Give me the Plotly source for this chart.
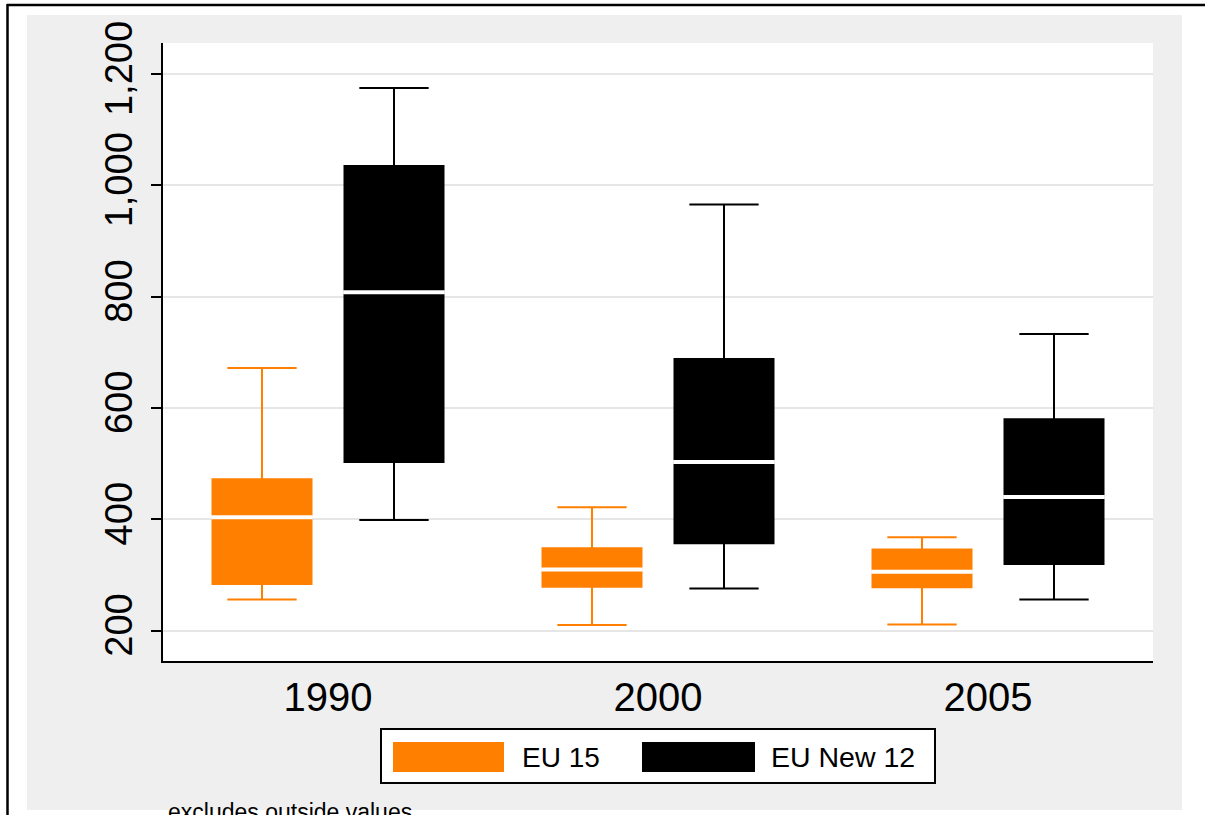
import plotly.graph_objects as go

# Box-plot summaries (excludes outside values)
years = ["1990", "2000", "2005"]

eu15_lower = [256, 210, 211]
eu15_q1 = [284, 279, 278]
eu15_median = [404, 310, 306]
eu15_q3 = [472, 348, 346]
eu15_upper = [672, 422, 368]

new12_lower = [399, 276, 256]
new12_q1 = [503, 357, 320]
new12_median = [808, 503, 440]
new12_q3 = [1035, 688, 580]
new12_upper = [1175, 966, 733]

y_ticks = [200, 400, 600, 800, 1000, 1200]

ORANGE = "#ff8000"
BLACK = "#000000"
FONT = "Liberation Sans, Arial, Helvetica, sans-serif"

# figure / plot-area geometry in pixels
FIG_W, FIG_H = 1205, 815
L, R, T, B = 163, 1153, 43, 661
PW, PH = R - L, B - T

BOX_W = 0.3
OFFSET = 0.2


def px(x):
    return (x - L) / PW


def py(y):
    return (B - y) / PH


fig = go.Figure()

series = [
    ("EU 15", ORANGE, -OFFSET, eu15_lower, eu15_q1, eu15_median, eu15_q3, eu15_upper),
    ("EU New 12", BLACK, OFFSET, new12_lower, new12_q1, new12_median, new12_q3, new12_upper),
]

for name, color, off, lo, q1, med, q3, hi in series:
    pos = [i + off for i in range(len(years))]
    fig.add_trace(go.Box(
        name=name,
        x=pos,
        lowerfence=lo, q1=q1, median=med, q3=q3, upperfence=hi,
        width=BOX_W,
        whiskerwidth=0.7,
        fillcolor=color,
        line=dict(color=color, width=2),
        boxpoints=False,
        showlegend=False,
        hoverinfo="skip",
    ))
    # white median bars across each box
    mx, my = [], []
    half = BOX_W / 2 + 0.004
    for p, m in zip(pos, med):
        mx += [p - half, p + half, None]
        my += [m, m, None]
    fig.add_trace(go.Scatter(
        x=mx, y=my, mode="lines",
        line=dict(color="white", width=4),
        showlegend=False, hoverinfo="skip",
    ))

shapes = [
    # grey graph region and white plot region
    dict(type="rect", xref="paper", yref="paper",
         x0=px(27), x1=px(1182), y0=py(810), y1=py(15),
         fillcolor="#efefef", line=dict(width=0), layer="below"),
    dict(type="rect", xref="paper", yref="paper",
         x0=0, x1=1, y0=0, y1=1,
         fillcolor="white", line=dict(width=0), layer="below"),
    # outer frame (top and left edges)
    dict(type="line", xref="paper", yref="paper",
         x0=px(7), x1=px(1205), y0=py(5), y1=py(5),
         line=dict(color="black", width=2.5)),
    dict(type="line", xref="paper", yref="paper",
         x0=px(7.5), x1=px(7.5), y0=py(4), y1=py(815),
         line=dict(color="black", width=2.5)),
    # legend frame and keys
    dict(type="rect", xref="paper", yref="paper",
         x0=px(381), x1=px(935), y0=py(783), y1=py(729),
         fillcolor="white", line=dict(color="black", width=2)),
    dict(type="rect", xref="paper", yref="paper",
         x0=px(393), x1=px(504), y0=py(772), y1=py(742),
         fillcolor=ORANGE, line=dict(width=0)),
    dict(type="rect", xref="paper", yref="paper",
         x0=px(642), x1=px(755), y0=py(772), y1=py(742),
         fillcolor=BLACK, line=dict(width=0)),
]

annotations = [
    dict(text="EU 15", xref="paper", yref="paper", x=px(520), y=py(757),
         xanchor="left", yanchor="middle", showarrow=False,
         font=dict(family=FONT, size=28, color="black")),
    dict(text="EU New 12", xref="paper", yref="paper", x=px(769), y=py(757),
         xanchor="left", yanchor="middle", showarrow=False,
         font=dict(family=FONT, size=28.5, color="black")),
    dict(text="excludes outside values", xref="paper", yref="paper",
         x=px(166), y=py(797), xanchor="left", yanchor="top", showarrow=False,
         font=dict(family=FONT, size=23, color="black")),
]

fig.update_layout(
    width=FIG_W, height=FIG_H, autosize=False,
    margin=dict(l=L, r=FIG_W - R, t=T, b=FIG_H - B, pad=0),
    paper_bgcolor="white", plot_bgcolor="white",
    boxmode="overlay",
    showlegend=False,
    shapes=shapes,
    annotations=annotations,
    font=dict(family=FONT, color="black"),
)

fig.update_xaxes(
    range=[-0.5, 2.5],
    tickmode="array", tickvals=list(range(len(years))), ticktext=years,
    ticks="", showgrid=False, zeroline=False,
    showline=True, linecolor="black", linewidth=2,
    tickfont=dict(family=FONT, size=40, color="black"),
)

fig.update_yaxes(
    range=[145.5, 1256],
    tickmode="array", tickvals=y_ticks, tickformat=",d",
    ticks="outside", ticklen=10, tickwidth=2, tickcolor="black",
    tickangle=-90, ticklabelstandoff=4,
    showgrid=True, gridcolor="#e6e6e6", gridwidth=1.5,
    zeroline=False,
    showline=True, linecolor="black", linewidth=2,
    tickfont=dict(family=FONT, size=38, color="black"),
)

fig.write_html("out.html")
